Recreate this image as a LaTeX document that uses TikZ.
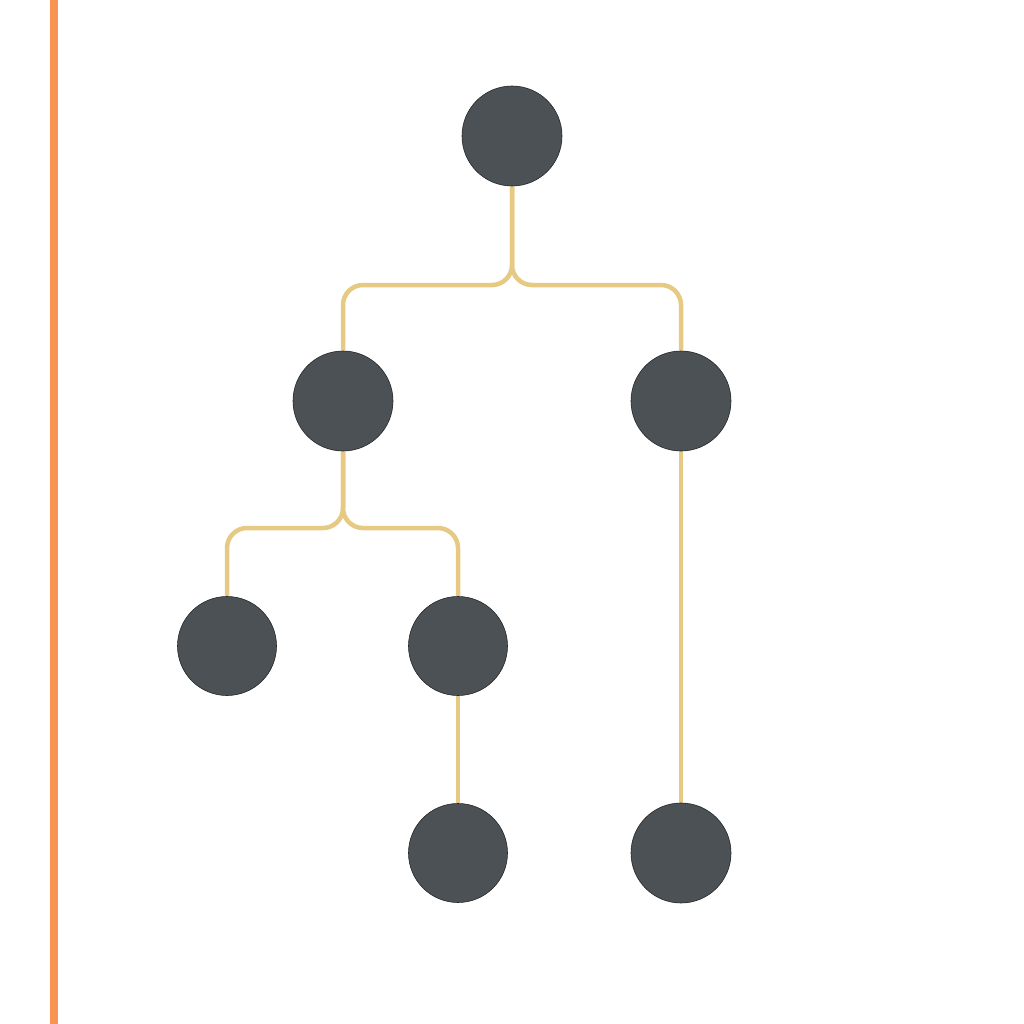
\documentclass[tikz,border=0pt]{standalone}
\usetikzlibrary{backgrounds}
\definecolor{nodefill}{HTML}{4B5154}
\definecolor{linkcol}{HTML}{E6C983}
\definecolor{barcol}{HTML}{FA9455}
\begin{document}
\begin{tikzpicture}[x=1pt,y=-1pt,
  dot/.style={circle,fill=nodefill,draw=black!85,line width=0.6pt,minimum size=100pt,inner sep=0pt},
  link/.style={draw=linkcol,line width=4.5pt,rounded corners=20pt}]
\useasboundingbox (0,0) rectangle (1024,1024);
\draw[barcol,line width=8pt] (54,0) -- (54,1024);
\node[dot] (r) at (512,136) {};
\node[dot] (a) at (343,401) {};
\node[dot] (b) at (681,401) {};
\node[dot,minimum size=99pt] (c) at (227,646) {};
\node[dot,minimum size=99pt] (d) at (458,646) {};
\node[dot,minimum size=99pt] (e) at (458,853) {};
\node[dot] (f) at (681,853) {};
\begin{scope}[on background layer]
\path[link] (r.south) -- (512,285) -| (a.north);
\path[link] (r.south) -- (512,285) -| (b.north);
\path[link] (a.south) -- (343,528) -| (c.north);
\path[link] (a.south) -- (343,528) -| (d.north);
\path[link,rounded corners=0pt] (d.south) -- (e.north);
\path[link,rounded corners=0pt] (b.south) -- (f.north);
\end{scope}
\end{tikzpicture}
\end{document}
